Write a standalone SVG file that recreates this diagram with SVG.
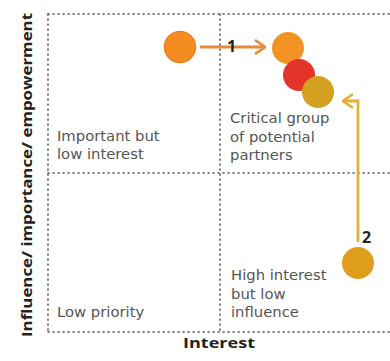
<svg xmlns="http://www.w3.org/2000/svg" width="390" height="361" viewBox="0 0 390 361">
<style>
.grid{stroke:#5a5a5a;stroke-width:1.5;stroke-dasharray:1.2 3.8;fill:none;stroke-linecap:round}
.lbl{font-family:"DejaVu Sans","Open Sans",sans-serif;font-size:14.8px;fill:#555}
.axis{font-family:"Open Sans","Noto Sans",sans-serif;font-size:15px;font-weight:bold;fill:#222}
.num{font-family:"Open Sans","Noto Sans",sans-serif;font-size:16px;font-weight:bold;fill:#222}
</style>
<defs>
<marker id="ah1" viewBox="0 0 12 16" refX="11" refY="8" markerWidth="12" markerHeight="16" markerUnits="userSpaceOnUse" orient="auto">
<path d="M1,1 L11,8 L1,15" fill="none" stroke="#E8893A" stroke-width="2.6"/>
</marker>
<marker id="ah2" viewBox="0 0 12 16" refX="11" refY="8" markerWidth="12" markerHeight="16" markerUnits="userSpaceOnUse" orient="auto">
<path d="M1,1 L11,8 L1,15" fill="none" stroke="#E0B23A" stroke-width="2.6"/>
</marker>
</defs>
<rect width="390" height="361" fill="#fff"/>
<g id="grid">
<line class="grid" x1="48" y1="14" x2="390" y2="14"/>
<line class="grid" x1="48" y1="173" x2="390" y2="173"/>
<line class="grid" x1="48" y1="332" x2="390" y2="332"/>
<line class="grid" x1="48" y1="14" x2="48" y2="332"/>
<line class="grid" x1="220" y1="14" x2="220" y2="332"/>
</g>
<g id="axes">
<text class="axis" transform="translate(32,175) rotate(-90)" text-anchor="middle" textLength="324" lengthAdjust="spacingAndGlyphs">Influence/ importance/ empowerment</text>
<text class="axis" x="219" y="348" text-anchor="middle" textLength="72" lengthAdjust="spacingAndGlyphs">Interest</text>
</g>
<g id="quadrant-important">
<text class="lbl" x="57" y="141">Important but</text>
<text class="lbl" x="57" y="159">low interest</text>
</g>
<g id="quadrant-critical">
<text class="lbl" x="230" y="123">Critical group</text>
<text class="lbl" x="230" y="141.5">of potential</text>
<text class="lbl" x="230" y="160">partners</text>
</g>
<g id="quadrant-low">
<text class="lbl" x="57" y="317">Low priority</text>
</g>
<g id="quadrant-high">
<text class="lbl" x="231" y="280">High interest</text>
<text class="lbl" x="231" y="298.5">but low</text>
<text class="lbl" x="231" y="317">influence</text>
</g>
<g id="connectors">
<line x1="200" y1="47" x2="265" y2="47" stroke="#E8893A" stroke-width="2.8" marker-end="url(#ah1)"/>
<path d="M358,242 V101 H343" fill="none" stroke="#E0B23A" stroke-width="2.8" marker-end="url(#ah2)"/>
<text class="num" x="227" y="52">1</text>
<text class="num" x="362" y="243">2</text>
</g>
<g id="stakeholder-a"><circle cx="180" cy="47" r="15.5" fill="#F58C22" stroke="#EE8020" stroke-width="1.5"/></g>
<g id="stakeholder-b"><circle cx="288" cy="48" r="16" fill="#F39326"/></g>
<g id="stakeholder-c"><circle cx="299" cy="75" r="16" fill="#E3342A"/></g>
<g id="stakeholder-d"><circle cx="318" cy="92" r="16" fill="#D3A020"/></g>
<g id="stakeholder-e"><circle cx="358" cy="263" r="16" fill="#DE9E1C"/></g>
</svg>
